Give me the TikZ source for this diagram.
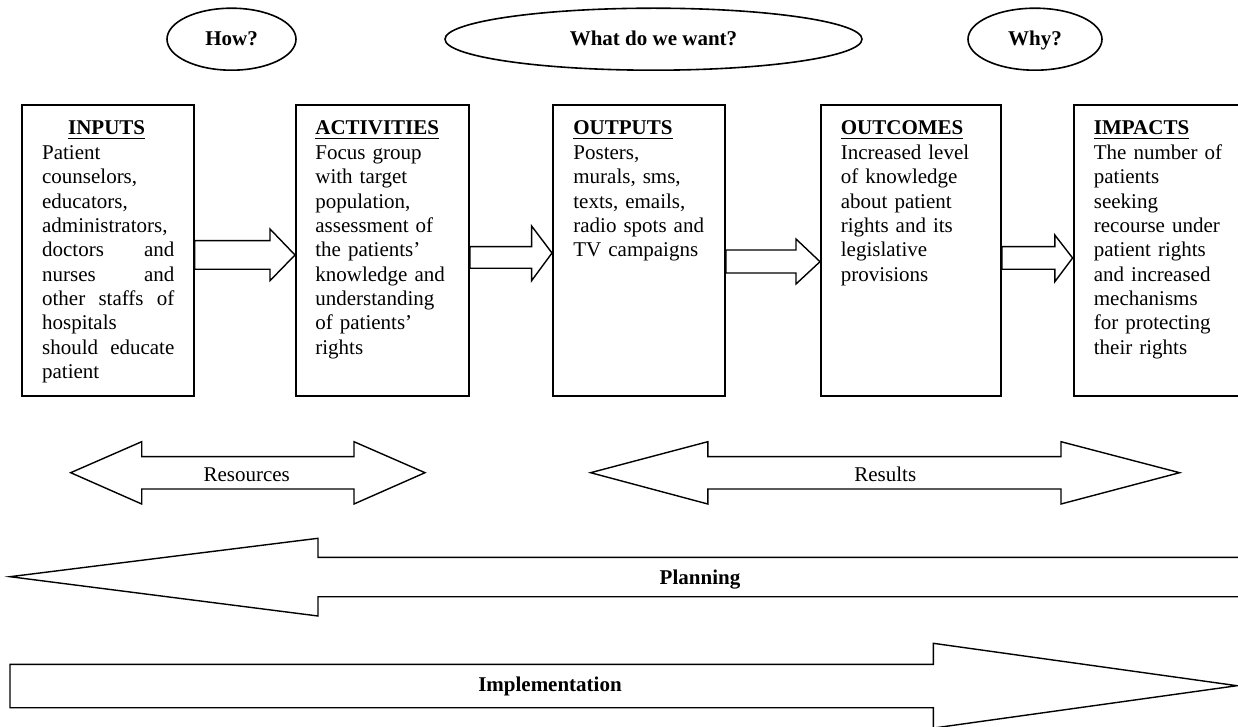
\documentclass[tikz,border=0pt]{standalone}
\usepackage{fontspec}
\setmainfont{Liberation Serif}
\usetikzlibrary{shapes.geometric}
\begin{document}
\begin{tikzpicture}[x=0.5pt,y=-0.5pt,
  every node/.append style={font=\fontsize{10.5}{12.15}\selectfont},
  lmbox/.style={draw, line width=1pt, anchor=north west, inner sep=0pt, minimum height=145.5pt},
  oval/.style={draw, ellipse, line width=0.8pt, inner sep=0pt, minimum height=31pt, text height=6.5pt, text depth=0pt, font=\fontsize{10.5}{12.15}\selectfont\bfseries},
  ttl/.style={anchor=base west, inner sep=0pt, font=\fontsize{10.5}{12.15}\selectfont\bfseries},
  body/.style={anchor=north west, inner sep=0pt, align=left, text width=75pt},
  blk/.style={draw, line width=0.7pt, line join=miter},
  lbl/.style={anchor=base, inner sep=0pt}
]
\fill[white] (0,0) rectangle (1238,727);
\clip (0,0) rectangle (1238,727);

% top ovals
\node[oval, minimum width=64.5pt] (how) at (231.5,39.2) {How?};
\node[oval, minimum width=208.5pt] (what) at (653.5,39.2) {What do we want?};
\node[oval, minimum width=67pt] (why) at (1035,39.2) {Why?};

% boxes
\node[lmbox, minimum width=86.1pt] (in) at (20.5,104) {};
\node[lmbox, minimum width=86.5pt] (act) at (295,104) {};
\node[lmbox, minimum width=86pt] (out) at (552,104) {};
\node[lmbox, minimum width=90pt] (oc) at (820,104) {};
\node[lmbox, minimum width=86.5pt] (imp) at (1072.6,104) {};

% titles
\node[ttl, anchor=base] (inT) at (106.6,135) {\underline{INPUTS}};
\node[ttl] (actT) at (315,135) {\underline{ACTIVITIES}};
\node[ttl] (outT) at (573,135) {\underline{OUTPUTS}};
\node[ttl] (ocT) at (840.5,135) {\underline{OUTCOMES}};
\node[ttl] (impT) at (1093.5,135) {\underline{IMPACTS}};

% body texts
\node[body, text width=66.15pt] (inB) at (41.7,143.3) {\rule{0pt}{8pt}Patient\\counselors,\\educators,\\administrators,\\doctors\hfill and\\nurses\hfill and\\other\hfill staffs\hfill of\\hospitals\\should\hfill educate\\patient};
\node[body] (actB) at (315,143.3) {\rule{0pt}{8pt}Focus group\\with target\\population,\\assessment of\\the patients’\\knowledge and\\understanding\\of patients’\\rights};
\node[body] (outB) at (573,143.3) {\rule{0pt}{8pt}Posters,\\murals, sms,\\texts, emails,\\radio spots and\\TV campaigns};
\node[body] (ocB) at (840.5,143.3) {\rule{0pt}{8pt}Increased level\\of knowledge\\about patient\\rights and its\\legislative\\provisions};
\node[body] (impB) at (1093.5,143.3) {\rule{0pt}{8pt}The number of\\patients\\seeking\\recourse under\\patient rights\\and increased\\mechanisms\\for protecting\\their rights};

% block arrows between boxes
\draw[blk] (in.east |- 0,240.7) -- (270,240.7) -- (270,229) -- (act.west |- 0,255)
  -- (270,280.7) -- (270,269.3) -- (in.east |- 0,269.3) -- cycle;
\draw[blk] (act.east |- 0,246.7) -- (531.6,246.7) -- (531.6,226) -- (out.west |- 0,253)
  -- (531.6,280.7) -- (531.6,268.3) -- (act.east |- 0,268.3) -- cycle;
\draw[blk] (out.east |- 0,250) -- (796,250) -- (796,239) -- (oc.west |- 0,261.7)
  -- (796,284) -- (796,273) -- (out.east |- 0,273) -- cycle;
\draw[blk] (oc.east |- 0,246.7) -- (1054.8,246.7) -- (1054.8,235) -- (imp.west |- 0,258)
  -- (1054.8,281.7) -- (1054.8,269.3) -- (oc.east |- 0,269.3) -- cycle;

% resources / results double arrows
\draw[blk] (70.7,472.7) -- (141.7,441.7) -- (141.7,456.7) -- (354,456.7) -- (354,441.7)
  -- (425,472.7) -- (354,504) -- (354,489) -- (141.7,489) -- (141.7,504) -- cycle;
\node[lbl] (res) at (246.7,481.7) {Resources};
\draw[blk] (590.6,472.7) -- (707.8,441.7) -- (707.8,456.7) -- (1061,456.7) -- (1061,441.7)
  -- (1179.6,472.7) -- (1061,504) -- (1061,489) -- (707.8,489) -- (707.8,504) -- cycle;
\node[lbl] (rsl) at (885.3,481.7) {Results};

% planning arrow
\draw[blk] (1250,557.3) -- (318,557.3) -- (318,538.3) -- (10,576.7) -- (318,616)
  -- (318,596.7) -- (1250,596.7);
\node[lbl, font=\fontsize{10.5}{12.15}\selectfont\bfseries] (plan) at (700,584) {Planning};

% implementation arrow
\draw[blk] (10,664.3) -- (933.3,664.3) -- (933.3,643.3) -- (1237,685.7) -- (933.3,728.1)
  -- (933.3,707.7) -- (10,707.7) -- cycle;
\node[lbl, font=\fontsize{10.5}{12.15}\selectfont\bfseries] (impl) at (550,691) {Implementation};
\end{tikzpicture}
\end{document}
